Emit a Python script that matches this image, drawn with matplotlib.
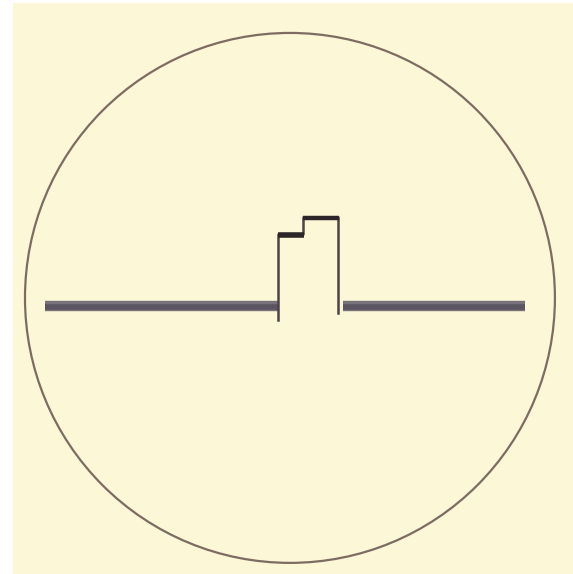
import numpy as np
import matplotlib.pyplot as plt
from matplotlib.patches import Circle

# развёртка: время и уровень сигнала (радиус экрана = 1)
base_level = -0.030
base_left_t = [-0.925, -0.045]
base_right_t = [0.200, 0.887]

pulse_t = [-0.045, -0.045, 0.049, 0.049, 0.181, 0.181]
pulse_v = [-0.083, 0.240, 0.240, 0.306, 0.306, -0.057]

# верхние площадки импульса
step1_t = [-0.045, 0.053]
step1_v = [0.236, 0.236]
step2_t = [0.049, 0.184]
step2_v = [0.303, 0.303]

screen_r = 1.0

fig = plt.figure(figsize=(5.73, 5.74), dpi=100, facecolor='white')
ax = fig.add_axes([13 / 573, 0, 560 / 573, 571 / 574])
ax.set_facecolor('#fcf7d6')
ax.set_xlim(-1.045, 1.068)
ax.set_ylim(-1.042, 1.113)
ax.set_aspect('equal')
ax.set_xticks([])
ax.set_yticks([])
for s in ax.spines.values():
    s.set_visible(False)

ax.add_patch(Circle((0, 0), screen_r, fill=False, edgecolor='#7d6c62', linewidth=1.6))

# линия развёртки (толстая, "шумная")
for t in (base_left_t, base_right_t):
    ax.plot(t, [base_level] * 2, color='#77727a', linewidth=7.5, solid_capstyle='butt')
    ax.plot(t, [base_level - 0.004] * 2, color='#5a5560', linewidth=4.0, solid_capstyle='butt')

ax.plot(pulse_t, pulse_v, color='#4d4248', linewidth=1.8)
ax.plot(step1_t, step1_v, color='#2c2628', linewidth=4.0, solid_capstyle='butt')
ax.plot(step2_t, step2_v, color='#2c2628', linewidth=3.2, solid_capstyle='butt')

plt.savefig('out.png', dpi=100, facecolor='white')
